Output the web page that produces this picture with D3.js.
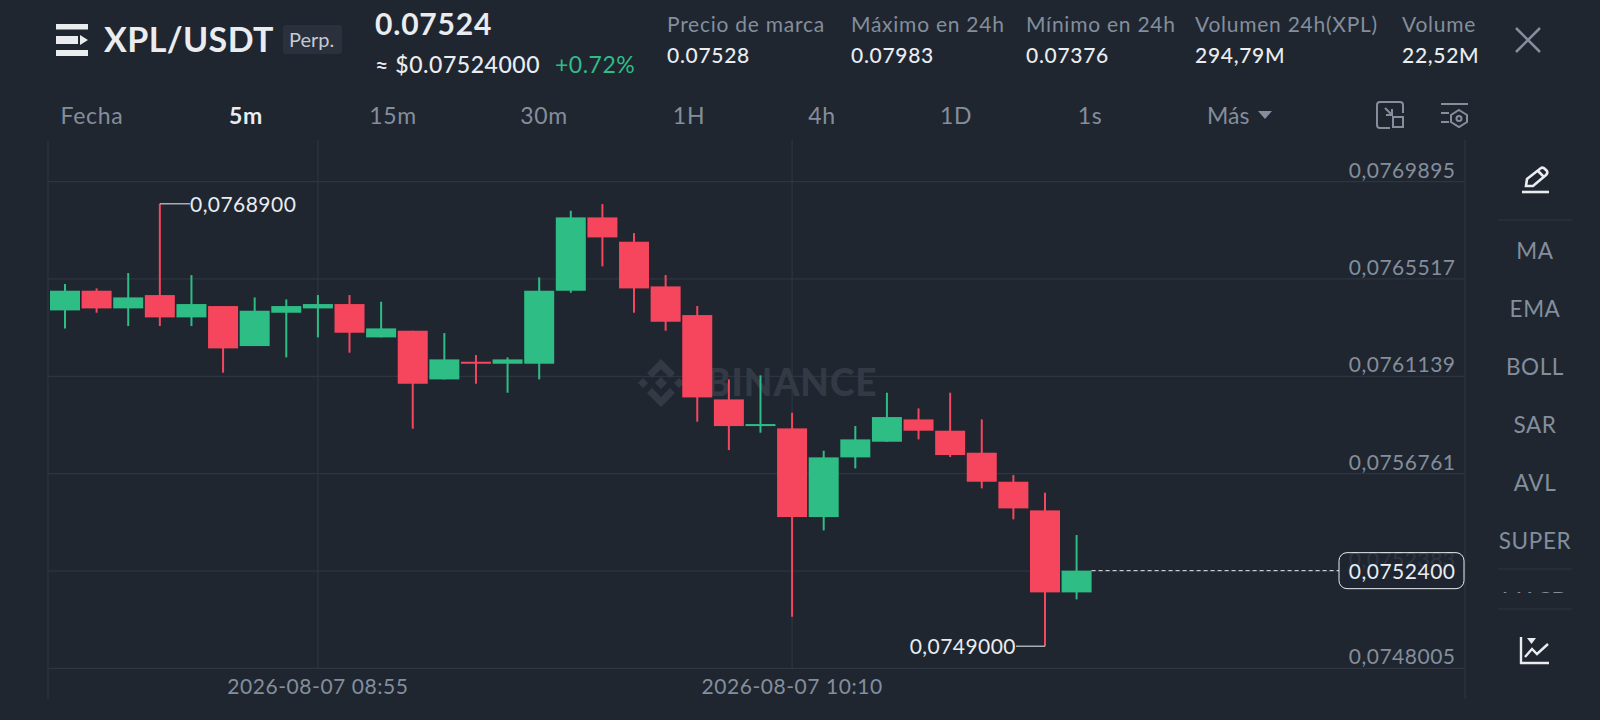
<!DOCTYPE html>
<html>
<head>
<meta charset="utf-8">
<script src="https://cdn.jsdelivr.net/npm/d3@7/dist/d3.min.js"></script>
<style>
  html, body { margin: 0; padding: 0; background: #1f2630; overflow: hidden; }
  svg { display: block; }
  text { font-family: "Lato", sans-serif; }
</style>
</head>
<body>
<script>
// Width and height
var w = 1600;
var h = 720;

// Candle data
var opens  = [0.0764103,0.0764988,0.0764193,0.0764793,0.0763789,0.0764298,0.0762499,0.0763998,0.0764193,0.0764388,0.0762889,0.0763189,0.0761000,0.0761795,0.0761705,0.0761705,0.0764987,0.0768285,0.0767191,0.0765182,0.0763893,0.0760101,0.0758917,0.0758798,0.0754811,0.0757494,0.0758198,0.0759202,0.0758693,0.0757703,0.0756399,0.0755110,0.0751423];
var closes = [0.0764988,0.0764193,0.0764688,0.0763789,0.0764388,0.0762395,0.0764088,0.0764298,0.0764388,0.0763099,0.0763294,0.0760805,0.0761900,0.0761705,0.0761900,0.0764987,0.0768285,0.0767386,0.0765092,0.0763593,0.0760191,0.0758902,0.0758992,0.0754811,0.0757494,0.0758303,0.0759307,0.0758693,0.0757598,0.0756399,0.0755200,0.0751423,0.0752400];
var highs  = [0.0765287,0.0765093,0.0765782,0.0768900,0.0765692,0.0764298,0.0764688,0.0764598,0.0764793,0.0764793,0.0764493,0.0763189,0.0763084,0.0762094,0.0761990,0.0765587,0.0768585,0.0768884,0.0767580,0.0765692,0.0764298,0.0761000,0.0761182,0.0759502,0.0757793,0.0758903,0.0760401,0.0759697,0.0760401,0.0759202,0.0756699,0.0755905,0.0754001];
var lows   = [0.0763294,0.0763998,0.0763399,0.0763399,0.0763399,0.0761300,0.0762499,0.0761990,0.0762889,0.0762200,0.0762889,0.0758785,0.0761000,0.0760805,0.0760401,0.0761000,0.0764897,0.0766082,0.0763998,0.0763189,0.0759097,0.0757823,0.0758603,0.0750329,0.0754211,0.0756999,0.0758198,0.0758303,0.0757509,0.0756100,0.0754706,0.0749000,0.0751108];

// Axis ticks
var priceTicks = [0.0769895,0.0765517,0.0761139,0.0756761,0.0752383,0.0748005];
var timeTickIndex = [8,23];
var timeTickLabels = ["2026-08-07 08:55","2026-08-07 10:10"];

// Last price and the marked extremes
var lastPrice = 0.07524;
var maxIndex = 3, maxPrice = 0.07689;
var minIndex = 31, minPrice = 0.0749;

// Header and side texts
var tabs = ["Fecha","5m","15m","30m","1H","4h","1D","1s"];
var tabX = [92,246,393,544,689,822,956,1090];
var statLabels = ["Precio de marca","Máximo en 24h","Mínimo en 24h","Volumen 24h(XPL)","Volume"];
var statValues = ["0.07528","0.07983","0.07376","294,79M","22,52M"];
var statX = [667,851,1026,1195,1402];
var indicators = ["MA","EMA","BOLL","SAR","AVL","SUPER"];
var indicatorY = [259,317,375,433,491,549];

var bg = "#1f2630", gridColor = "#2e3540", grey = "#848e9c", white = "#eaecef";
var up = "#2ebd85", down = "#f6465d";

function fmt(v) { return v.toFixed(7).replace(".", ","); }

// Scales
var x = d3.scaleLinear().domain([0, 32]).range([65, 1076.6]);
var y = d3.scaleLinear().domain([0.0748005, 0.0769895]).range([668.4, 181.6]);
var bodyW = 30;

// Create SVG element
var svg = d3.select("body")
            .append("svg")
            .attr("width", w)
            .attr("height", h);

svg.append("rect").attr("width", w).attr("height", h).attr("fill", bg);

// Grid
svg.selectAll("line.grid")
   .data(priceTicks)
   .enter()
   .append("line")
   .attr("class", "grid")
   .attr("x1", 48).attr("x2", 1465)
   .attr("y1", function(d) { return y(d); })
   .attr("y2", function(d) { return y(d); })
   .attr("stroke", gridColor)
   .attr("stroke-width", 1.2);

svg.selectAll("line.vgrid")
   .data(timeTickIndex)
   .enter()
   .append("line")
   .attr("class", "vgrid")
   .attr("x1", function(d) { return x(d); })
   .attr("x2", function(d) { return x(d); })
   .attr("y1", 140).attr("y2", 668)
   .attr("stroke", gridColor)
   .attr("stroke-width", 1.2);

[48, 1465].forEach(function(px) {
  svg.append("line").attr("x1", px).attr("x2", px).attr("y1", 140).attr("y2", 699)
     .attr("stroke", gridColor).attr("stroke-width", 1.2);
});

// Watermark
var wm = svg.append("g").attr("transform", "translate(661,383)").attr("fill", "#333a45");
["M0,-6L6,0L0,6L-6,0Z", "M-18,-5L-13,0L-18,5L-23,0Z", "M18,-5L23,0L18,5L13,0Z",
 "M0,-24L14,-10L9,-5L0,-14L-9,-5L-14,-10Z", "M0,24L14,10L9,5L0,14L-9,5L-14,10Z"].forEach(function(p) {
  wm.append("path").attr("d", p);
});
svg.append("text").text("BINANCE")
   .attr("x", 706).attr("y", 396)
   .attr("font-size", 37).attr("font-weight", 900).attr("letter-spacing", 1)
   .attr("fill", "#333a45");

// Candles
var idx = d3.range(opens.length);
function colour(i) { return closes[i] >= opens[i] ? up : down; }

svg.selectAll("line.wick")
   .data(idx)
   .enter()
   .append("line")
   .attr("class", "wick")
   .attr("x1", function(i) { return x(i); })
   .attr("x2", function(i) { return x(i); })
   .attr("y1", function(i) { return y(highs[i]); })
   .attr("y2", function(i) { return y(lows[i]); })
   .attr("stroke", colour)
   .attr("stroke-width", 2);

svg.selectAll("rect.body")
   .data(idx)
   .enter()
   .append("rect")
   .attr("class", "body")
   .attr("x", function(i) { return x(i) - bodyW / 2; })
   .attr("y", function(i) { return y(Math.max(opens[i], closes[i])); })
   .attr("width", bodyW)
   .attr("height", function(i) { return Math.max(2, Math.abs(y(opens[i]) - y(closes[i]))); })
   .attr("fill", colour);

// Price axis labels
svg.selectAll("text.price")
   .data(priceTicks)
   .enter()
   .append("text")
   .attr("class", "price")
   .text(fmt)
   .attr("x", 1455.5)
   .attr("y", function(d) { return y(d) - 4; })
   .attr("text-anchor", "end")
   .attr("font-size", 21)
   .attr("letter-spacing", 0.5)
   .attr("fill", grey);

// Time axis labels
svg.selectAll("text.time")
   .data(timeTickIndex)
   .enter()
   .append("text")
   .attr("class", "time")
   .text(function(d, i) { return timeTickLabels[i]; })
   .attr("x", function(d) { return x(d); })
   .attr("y", 694)
   .attr("text-anchor", "middle")
   .attr("font-size", 21)
   .attr("letter-spacing", 0.55)
   .attr("fill", grey);

// Max and min labels
svg.append("path")
   .attr("d", "M" + x(maxIndex) + "," + y(maxPrice) + "H190M" + x(minIndex) + "," + y(minPrice) + "H1016")
   .attr("stroke", "#a8adb5").attr("stroke-width", 1.5).attr("fill", "none");
svg.append("text").text(fmt(maxPrice))
   .attr("x", 190).attr("y", y(maxPrice) + 8)
   .attr("font-size", 21).attr("letter-spacing", 0.45).attr("fill", white);
svg.append("text").text(fmt(minPrice))
   .attr("x", 1016).attr("y", y(minPrice) + 8).attr("text-anchor", "end")
   .attr("font-size", 21).attr("letter-spacing", 0.45).attr("fill", white);

// Last price line and box
svg.append("line")
   .attr("x1", x(32) + bodyW / 2).attr("x2", 1339)
   .attr("y1", y(lastPrice)).attr("y2", y(lastPrice))
   .attr("stroke", white).attr("stroke-width", 1).attr("stroke-dasharray", "4 3");
svg.append("rect")
   .attr("x", 1339).attr("y", y(lastPrice) - 18)
   .attr("width", 125).attr("height", 36).attr("rx", 8)
   .attr("fill", bg).attr("fill-opacity", 0.85)
   .attr("stroke", white).attr("stroke-width", 1);
svg.append("text").text(fmt(lastPrice))
   .attr("x", 1455.5).attr("y", y(lastPrice) + 8).attr("text-anchor", "end")
   .attr("font-size", 21).attr("letter-spacing", 0.5).attr("fill", white);

// Header: menu icon and pair
svg.append("path").attr("d", "M56,24H88V29.5H56ZM56,36H78V44H56ZM56,50H88V56H56ZM80,35L88,40L80,45Z").attr("fill", white);
svg.append("text").text("XPL/USDT")
   .attr("x", 104).attr("y", 52).attr("font-size", 34).attr("font-weight", 700).attr("letter-spacing", 0.4).attr("fill", white);
svg.append("rect").attr("x", 283).attr("y", 25).attr("width", 59).attr("height", 29).attr("rx", 3).attr("fill", "#2a313c");
svg.append("text").text("Perp.")
   .attr("x", 289).attr("y", 47).attr("font-size", 20).attr("fill", "#c6cad0");

svg.append("text").text("0.07524")
   .attr("x", 375).attr("y", 35).attr("font-size", 30).attr("font-weight", 700).attr("letter-spacing", 0.8).attr("fill", white);
svg.append("text").text("≈ $0.07524000")
   .attr("x", 375).attr("y", 73).attr("font-size", 23).attr("font-weight", 500).attr("letter-spacing", 0.55).attr("fill", white);
svg.append("text").text("+0.72%")
   .attr("x", 555).attr("y", 73).attr("font-size", 23).attr("letter-spacing", 0.5).attr("fill", up);

// Header: stats, clipped on the right
svg.append("clipPath").attr("id", "statClip")
   .append("rect").attr("x", 0).attr("y", 0).attr("width", 1478).attr("height", 90);
var stats = svg.append("g").attr("clip-path", "url(#statClip)");
stats.selectAll("text.lab")
   .data(statLabels)
   .enter()
   .append("text")
   .attr("class", "lab")
   .text(function(d) { return d; })
   .attr("x", function(d, i) { return statX[i]; })
   .attr("y", 32)
   .attr("font-size", 21)
   .attr("letter-spacing", 0.75)
   .attr("fill", grey);
stats.selectAll("text.val")
   .data(statValues)
   .enter()
   .append("text")
   .attr("class", "val")
   .text(function(d) { return d; })
   .attr("x", function(d, i) { return statX[i]; })
   .attr("y", 63)
   .attr("font-size", 21)
   .attr("font-weight", 500)
   .attr("letter-spacing", 0.7)
   .attr("fill", white);

// Close icon
svg.append("path").attr("d", "M1516,28L1540,52M1540,28L1516,52")
   .attr("stroke", grey).attr("stroke-width", 2.5).attr("fill", "none");

// Tabs
svg.selectAll("text.tab")
   .data(tabs)
   .enter()
   .append("text")
   .attr("class", "tab")
   .text(function(d) { return d; })
   .attr("x", function(d, i) { return tabX[i]; })
   .attr("y", 124)
   .attr("text-anchor", "middle")
   .attr("font-size", 23)
   .attr("letter-spacing", 0.7)
   .attr("font-weight", function(d) { return d == "5m" ? 700 : 400; })
   .attr("fill", function(d) { return d == "5m" ? white : grey; });
svg.append("text").text("Más").attr("x", 1207).attr("y", 124).attr("font-size", 23).attr("fill", grey);
svg.append("path").attr("d", "M1258,111H1272L1265,119Z").attr("fill", grey);

// Tool icons
svg.append("path")
   .attr("d", "M1390,128H1380Q1377,128 1377,125V105Q1377,102 1380,102H1400Q1403,102 1403,105V113M1385,108L1392,115M1392,109V115H1386M1393,117H1403V127H1393Z")
   .attr("stroke", grey).attr("stroke-width", 2).attr("fill", "none");
svg.append("path")
   .attr("d", "M1441,104H1468M1441,113H1449M1441,122H1449M1459,110L1467,115V122L1459,127L1451,122V115Z")
   .attr("stroke", grey).attr("stroke-width", 2).attr("fill", "none");
svg.append("circle").attr("cx", 1459).attr("cy", 118.5).attr("r", 2.5).attr("stroke", grey).attr("stroke-width", 2).attr("fill", "none");

// Side panel
svg.append("path")
   .attr("d", "M1526,186L1527,179L1541,168Q1543,167 1545,169L1547,171Q1548,173 1546,175L1533,186ZM1538,171L1544,177")
   .attr("stroke", white).attr("stroke-width", 2.6).attr("fill", "none");
svg.append("line").attr("x1", 1522).attr("x2", 1549).attr("y1", 192).attr("y2", 192).attr("stroke", white).attr("stroke-width", 2.6);

svg.selectAll("text.ind")
   .data(indicators)
   .enter()
   .append("text")
   .attr("class", "ind")
   .text(function(d) { return d; })
   .attr("x", 1535)
   .attr("y", function(d, i) { return indicatorY[i]; })
   .attr("text-anchor", "middle")
   .attr("font-size", 22.5)
   .attr("letter-spacing", 0.6)
   .attr("fill", grey);

[220, 569, 609].forEach(function(py) {
  svg.append("line").attr("x1", 1498).attr("x2", 1572).attr("y1", py).attr("y2", py)
     .attr("stroke", gridColor).attr("stroke-width", 1.2);
});

svg.append("clipPath").attr("id", "sideClip")
   .append("rect").attr("x", 1490).attr("y", 570).attr("width", 90).attr("height", 23);
svg.append("text").text("MACD")
   .attr("clip-path", "url(#sideClip)")
   .attr("x", 1535).attr("y", 607).attr("text-anchor", "middle")
   .attr("font-size", 22).attr("fill", grey);

svg.append("path")
   .attr("d", "M1521,637V663H1549M1525,657L1532,649L1537,654L1548,644")
   .attr("stroke", white).attr("stroke-width", 2.4).attr("fill", "none");
svg.append("path").attr("d", "M1527,638H1536L1531.5,644Z").attr("fill", white);
</script>
</body>
</html>
